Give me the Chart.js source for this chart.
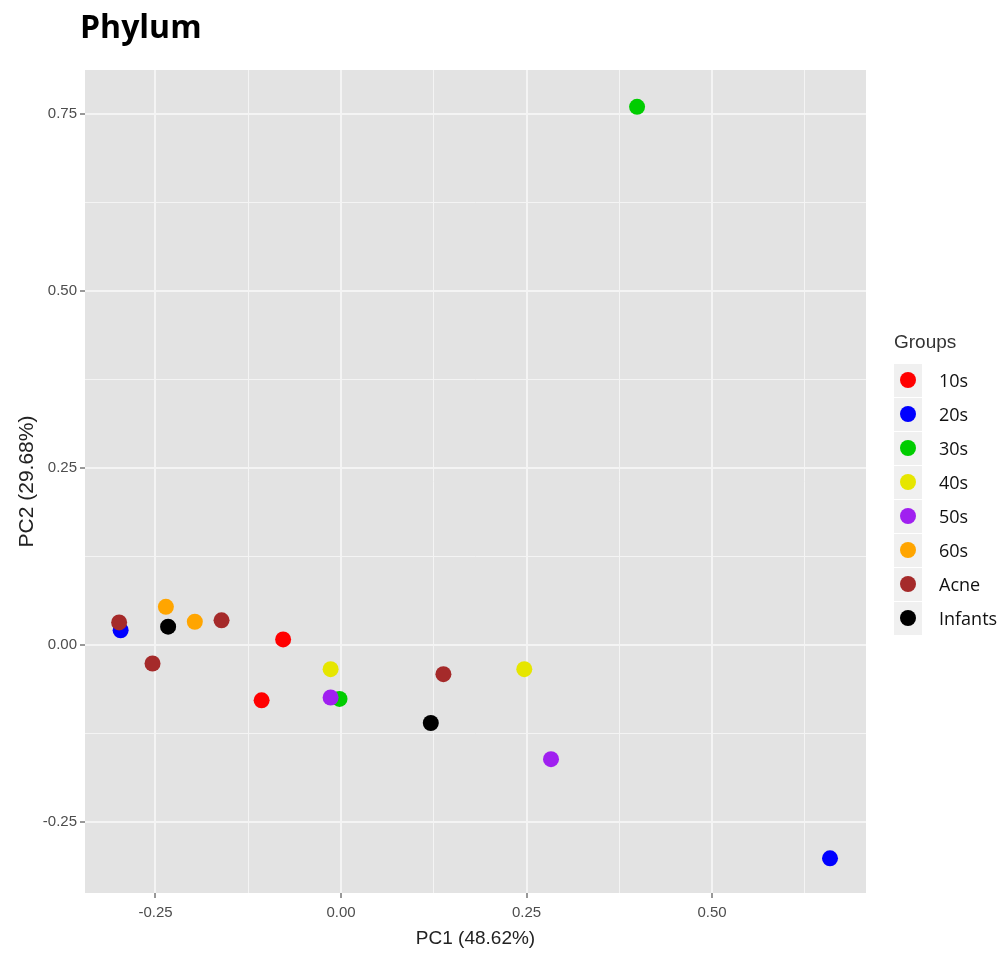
<!DOCTYPE html>
<html>
<head>
<meta charset="utf-8">
<script src="https://cdn.jsdelivr.net/npm/chart.js@4.4.1/dist/chart.umd.min.js"></script>
<style>
  body { margin: 0; background: #fff; }
  #wrap { position: relative; width: 1006px; height: 957px; }
  #legend { position: absolute; left: 894px; top: 327px; }
  #legend .ttl { font-family: "Liberation Sans", Arial, sans-serif; font-size: 19px; color: #333; height: 36px; line-height: 30px; }
  #legend .row { display: flex; align-items: center; height: 34px; }
  #legend .key { width: 28px; height: 33px; background: #f0f0f0; display: flex; align-items: center; justify-content: center; }
  #legend .dot { width: 16px; height: 16px; border-radius: 50%; }
  #legend .lab { font-family: "Open Sans", sans-serif; font-size: 18px; color: #111; margin-left: 17px; }
</style>
</head>
<body>
<div id="wrap">
  <canvas id="c" width="1006" height="957"></canvas>
  <div id="legend"></div>
</div>
<script>
// groups and colours
const groups = ["10s", "20s", "30s", "40s", "50s", "60s", "Acne", "Infants"];
const colors = ["#ff0000", "#0000ff", "#00cd00", "#e6e600", "#a020f0", "#ffa500", "#a52a2a", "#000000"];

// PC1 / PC2 scores per group
const pc1 = [
  [-0.078, -0.107],
  [-0.297, 0.659],
  [0.399, -0.002],
  [-0.014, 0.247],
  [-0.014, 0.283],
  [-0.236, -0.197],
  [-0.299, -0.161, -0.254, 0.138],
  [-0.233, 0.121]
];
const pc2 = [
  [0.008, -0.078],
  [0.021, -0.301],
  [0.760, -0.076],
  [-0.034, -0.034],
  [-0.074, -0.161],
  [0.054, 0.033],
  [0.032, 0.035, -0.026, -0.041],
  [0.026, -0.110]
];

const xTicks = [-0.25, 0, 0.25, 0.5];
const yTicks = [-0.25, 0, 0.25, 0.5, 0.75];

const isMajor = (v, list) => list.some(t => Math.abs(t - v) < 1e-9);

const datasets = groups.map((g, i) => ({
  label: g,
  data: pc1[i].map((x, j) => ({ x: x, y: pc2[i][j] })),
  backgroundColor: colors[i],
  borderWidth: 0,
  pointRadius: 8,
  order: -i
}));

const panelBg = {
  id: "panelBg",
  beforeDraw(chart) {
    const a = chart.chartArea;
    const ctx = chart.ctx;
    ctx.save();
    ctx.fillStyle = "#e3e3e3";
    ctx.fillRect(a.left, a.top, a.right - a.left, a.bottom - a.top);
    ctx.restore();
  },
  afterDraw(chart) {
    const ctx = chart.ctx;
    ctx.save();
    ctx.fillStyle = "#000";
    ctx.font = "bold 32px 'Open Sans', sans-serif";
    ctx.textBaseline = "alphabetic";
    ctx.fillText("Phylum", 80, 38);
    ctx.restore();
  }
};

function axis(list, titleText, fit, titlePad, tickPad) {
  return {
    type: "linear",
    ticks: {
      stepSize: 0.125,
      includeBounds: false,
      autoSkip: false,
      maxRotation: 0,
      padding: tickPad,
      color: "#4d4d4d",
      font: { family: "'Liberation Sans', Arial", size: 15 },
      callback: v => isMajor(v, list) ? v.toFixed(2) : ""
    },
    grid: {
      color: c => "#f4f4f4",
      lineWidth: c => isMajor(c.tick.value, list) ? 2 : 1,
      tickColor: c => isMajor(c.tick.value, list) ? "#333" : "rgba(0,0,0,0)",
      tickLength: 5,
      tickWidth: 1
    },
    border: { display: false },
    title: {
      display: true,
      text: titleText,
      color: "#222",
      font: { family: "'Liberation Sans', Arial", size: 19 },
      padding: titlePad
    },
    afterFit: fit
  };
}

const xAxis = axis(xTicks, "PC1 (48.62%)", s => { s.height = 64; }, { top: 0, bottom: 7 }, 6);
xAxis.min = -0.345;
xAxis.max = 0.7075;
const yAxis = axis(yTicks, "PC2 (29.68%)", s => { s.width = 85; }, { top: 15, bottom: 0 }, 3);
yAxis.min = -0.350;
yAxis.max = 0.812;
yAxis.title.font = { family: "'Liberation Sans', Arial", size: 21 };

new Chart(document.getElementById("c"), {
  type: "scatter",
  data: { datasets: datasets },
  options: {
    responsive: false,
    animation: false,
    layout: { padding: { top: 70, right: 140, left: 0, bottom: 0 } },
    plugins: { legend: { display: false }, tooltip: { enabled: false }, title: { display: false } },
    scales: { x: xAxis, y: yAxis }
  },
  plugins: [panelBg]
});

// ggplot-style legend
const lg = document.getElementById("legend");
let html = '<div class="ttl">Groups</div>';
groups.forEach((g, i) => {
  html += '<div class="row"><div class="key"><div class="dot" style="background:' + colors[i] + '"></div></div><div class="lab">' + g + '</div></div>';
});
lg.innerHTML = html;
</script>
</body>
</html>
